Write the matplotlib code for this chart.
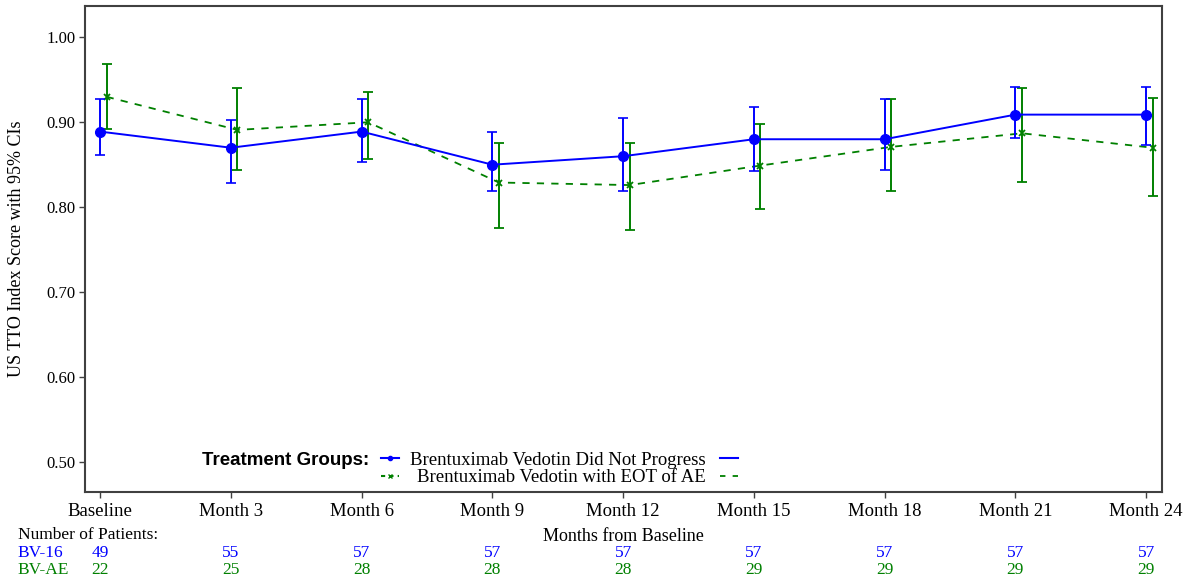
import matplotlib
matplotlib.use("Agg")
import matplotlib.pyplot as plt
from matplotlib.lines import Line2D
from matplotlib.transforms import blended_transform_factory

# visits and patient counts
visits = ['Baseline', 'Month 3', 'Month 6', 'Month 9', 'Month 12',
          'Month 15', 'Month 18', 'Month 21', 'Month 24']
n_bv16 = [49, 55, 57, 57, 57, 57, 57, 57, 57]
n_bvae = [22, 25, 28, 28, 28, 29, 29, 29, 29]

# BV-16: Brentuximab Vedotin Did Not Progress
bv16_mean = [0.889, 0.870, 0.889, 0.850, 0.860, 0.880, 0.880, 0.909, 0.909]
bv16_low = [0.861, 0.829, 0.853, 0.819, 0.819, 0.843, 0.844, 0.881, 0.873]
bv16_high = [0.927, 0.903, 0.927, 0.889, 0.905, 0.918, 0.927, 0.942, 0.942]

# BV-AE: Brentuximab Vedotin with EOT of AE
bvae_mean = [0.930, 0.891, 0.900, 0.829, 0.826, 0.849, 0.871, 0.887, 0.870]
bvae_low = [0.892, 0.844, 0.857, 0.775, 0.773, 0.798, 0.819, 0.830, 0.813]
bvae_high = [0.969, 0.940, 0.936, 0.876, 0.876, 0.898, 0.927, 0.940, 0.929]

BLUE = '#0000ff'
GREEN = '#008000'

plt.rcParams['font.family'] = ['Liberation Serif', 'DejaVu Serif']


def generate_plot():
    fig = plt.figure(figsize=(11.88, 5.8), dpi=100)
    ax = fig.add_axes([0.0716, 0.152, 0.9064, 0.8377])

    x = list(range(len(visits)))
    x_ae = [v + 0.05 for v in x]

    err16 = [[m - lo for m, lo in zip(bv16_mean, bv16_low)],
             [hi - m for m, hi in zip(bv16_mean, bv16_high)]]
    errae = [[m - lo for m, lo in zip(bvae_mean, bvae_low)],
             [hi - m for m, hi in zip(bvae_mean, bvae_high)]]

    ax.errorbar(x, bv16_mean, yerr=err16, color=BLUE, linestyle='-', linewidth=1.4,
                marker='o', markersize=7, elinewidth=1.4, capsize=3.5, capthick=1.2,
                zorder=3)
    ax.errorbar(x_ae, bvae_mean, yerr=errae, color=GREEN, linestyle=(0, (4, 4)),
                linewidth=1.3, marker='x', markersize=5, markeredgewidth=1.3,
                elinewidth=1.4, capsize=3.5, capthick=1.2, zorder=2)

    ax.set_xlim(-0.115, 8.12)
    ax.set_ylim(0.4646, 1.037)
    ax.set_xticks(x)
    ax.set_xticklabels(visits, fontsize=13.5)
    ax.set_yticks([0.5, 0.6, 0.7, 0.8, 0.9, 1.0])
    ax.set_yticklabels(['%.2f' % v for v in [0.5, 0.6, 0.7, 0.8, 0.9, 1.0]], fontsize=12)
    ax.tick_params(axis='x', direction='out', length=4, width=1, color='#404040', pad=4)
    ax.tick_params(axis='y', direction='out', length=4, width=1, color='#404040', pad=3)

    for sp in ax.spines.values():
        sp.set_color('#404040')
        sp.set_linewidth(1.5)

    ax.set_xlabel('Months from Baseline', fontsize=13)
    ax.xaxis.set_label_coords(0.5, -0.075)
    ax.set_ylabel('US TTO Index Score with 95% CIs', fontsize=13)
    ax.yaxis.set_label_coords(-0.0557, 0.5)

    # legend: title, marker column, labels with line samples after the text
    ax.text(0.109, 0.065, 'Treatment Groups:', transform=ax.transAxes,
            fontsize=13.5, fontweight='bold', family=['Liberation Sans', 'DejaVu Sans'],
            ha='left', va='center')

    mark_handles = [Line2D([], [], color=BLUE, marker='o', markersize=3, linewidth=1.5),
                    Line2D([], [], color=GREEN, marker='x', markersize=3, linewidth=1.5,
                           linestyle=(0, (2, 2)))]
    leg_marks = ax.legend(mark_handles, [' ', ' '], loc='center left',
                          bbox_to_anchor=(0.2745, 0.047), frameon=False, fontsize=13.5,
                          handlelength=1.0, handletextpad=0, labelspacing=0,
                          borderpad=0, borderaxespad=0)
    ax.add_artist(leg_marks)

    line_handles = [Line2D([], [], color=BLUE, linewidth=1.5),
                    Line2D([], [], color=GREEN, linewidth=1.3, linestyle=(0, (3, 4)))]
    ax.legend(line_handles, ['Brentuximab Vedotin Did Not Progress',
                             'Brentuximab Vedotin with EOT of AE'],
              loc='center right', bbox_to_anchor=(0.606, 0.047), frameon=False,
              fontsize=13.5, markerfirst=False, handlelength=0.95, handletextpad=0.75,
              labelspacing=0, borderpad=0, borderaxespad=0)

    # number of patients table below the axis
    fig.text(0.015, 0.0776, 'Number of Patients:', fontsize=12.5, va='center', ha='left')
    fig.text(0.015, 0.0466, 'BV-16', fontsize=12.5, va='center', ha='left', color=BLUE)
    fig.text(0.015, 0.017, 'BV-AE', fontsize=12.5, va='center', ha='left', color=GREEN)
    trans = blended_transform_factory(ax.transData, fig.transFigure)
    for xi, a, b in zip(x, n_bv16, n_bvae):
        ax.text(xi, 0.0466, str(a), transform=trans, ha='center', va='center',
                fontsize=12.5, color=BLUE)
        ax.text(xi, 0.017, str(b), transform=trans, ha='center', va='center',
                fontsize=12.5, color=GREEN)

    fig.savefig('out.png', dpi=100)


if __name__ == "__main__":
    generate_plot()
